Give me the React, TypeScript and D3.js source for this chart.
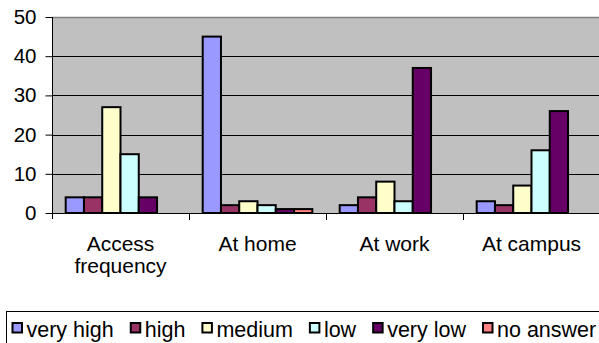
import React, { useEffect, useRef } from "react";
import * as d3 from "d3";

// Survey answers per access context
const categories: string[][] = [["Access", "frequency"], ["At home"], ["At work"], ["At campus"]];
const seriesNames = ["very high", "high", "medium", "low", "very low", "no answer"];
const seriesColors = ["#9999FF", "#993366", "#FFFFCC", "#CCFFFF", "#660066", "#FF8080"];
const veryHigh = [4, 45, 2, 3];
const high = [4, 2, 4, 2];
const medium = [27, 3, 8, 7];
const low = [15, 2, 3, 16];
const veryLow = [4, 1, 37, 26];
const noAnswer = [0, 1, 0, 0];
const yTicks = [0, 10, 20, 30, 40, 50];

const seriesValues = [veryHigh, high, medium, low, veryLow, noAnswer];

const W = 599;
const H = 343;
const FONT = "'Liberation Sans', Arial, sans-serif";

export default function App() {
  const ref = useRef<SVGSVGElement | null>(null);

  useEffect(() => {
    const svg = d3.select(ref.current);
    svg.selectAll("*").remove();

    const plot = { left: 52, right: 600, top: 17, bottom: 213 };
    const catKeys = categories.map((c) => c.join(" "));

    const x0 = d3.scaleBand<string>().domain(catKeys).range([plot.left, plot.right]).padding(0);
    const x1 = d3
      .scaleBand<string>()
      .domain(seriesNames)
      .range([0, x0.bandwidth()])
      .paddingInner(0)
      .paddingOuter(0.75);
    const y = d3.scaleLinear().domain([0, 50]).range([plot.bottom, plot.top]);

    // plot area
    svg
      .append("rect")
      .attr("x", plot.left)
      .attr("y", plot.top)
      .attr("width", plot.right - plot.left)
      .attr("height", plot.bottom - plot.top)
      .attr("fill", "#C0C0C0");

    // gridlines
    svg
      .append("g")
      .selectAll("line")
      .data(yTicks.filter((t) => t > 0 && t < 50))
      .join("line")
      .attr("x1", plot.left)
      .attr("x2", plot.right)
      .attr("y1", (d) => Math.round(y(d)) + 0.5)
      .attr("y2", (d) => Math.round(y(d)) + 0.5)
      .attr("stroke", "#000")
      .attr("stroke-width", 1);

    // top border of plot
    svg
      .append("line")
      .attr("x1", plot.left)
      .attr("x2", plot.right)
      .attr("y1", plot.top + 0.5)
      .attr("y2", plot.top + 0.5)
      .attr("stroke", "#808080")
      .attr("stroke-width", 1.5);

    // bars
    const groups = svg
      .append("g")
      .selectAll("g")
      .data(catKeys)
      .join("g")
      .attr("transform", (d) => `translate(${x0(d)},0)`);

    groups
      .selectAll("rect")
      .data((_, ci) => seriesNames.map((s, si) => ({ s, si, v: seriesValues[si][ci] })))
      .join("rect")
      .filter((d) => d.v > 0)
      .attr("x", (d) => x1(d.s)!)
      .attr("y", (d) => y(d.v))
      .attr("width", x1.bandwidth())
      .attr("height", (d) => y(0) - y(d.v))
      .attr("fill", (d) => seriesColors[d.si])
      .attr("stroke", "#000")
      .attr("stroke-width", 2);

    // y axis
    const yAxis = d3
      .axisLeft(y)
      .tickValues(yTicks)
      .tickSize(7)
      .tickPadding(9)
      .tickFormat((d) => String(d));
    const yg = svg.append("g").attr("transform", `translate(${plot.left + 0.5},0)`).call(yAxis);
    yg.select(".domain").attr("stroke", "#000").attr("d", `M0,${plot.top}V${plot.bottom + 6}`);
    yg.selectAll(".tick line").attr("stroke", "#000");
    yg.selectAll(".tick text")
      .attr("fill", "#000")
      .style("font-family", FONT)
      .style("font-size", "20.5px");

    // x axis line and category boundary ticks
    svg
      .append("line")
      .attr("x1", plot.left)
      .attr("x2", plot.right)
      .attr("y1", plot.bottom + 0.5)
      .attr("y2", plot.bottom + 0.5)
      .attr("stroke", "#000");
    svg
      .append("g")
      .selectAll("line")
      .data(catKeys.slice(1))
      .join("line")
      .attr("x1", (d) => Math.round(x0(d)!) + 0.5)
      .attr("x2", (d) => Math.round(x0(d)!) + 0.5)
      .attr("y1", plot.bottom)
      .attr("y2", plot.bottom + 7)
      .attr("stroke", "#000");

    // category labels
    const labels = svg
      .append("g")
      .selectAll("text")
      .data(categories)
      .join("text")
      .attr("x", (_, i) => x0(catKeys[i])! + x0.bandwidth() / 2)
      .attr("y", 251)
      .attr("text-anchor", "middle")
      .attr("fill", "#000")
      .style("font-family", FONT)
      .style("font-size", "21px");
    labels
      .selectAll("tspan")
      .data((d) => d)
      .join("tspan")
      .attr("x", function () {
        return (this.parentNode as SVGTextElement).getAttribute("x");
      })
      .attr("dy", (_, i) => (i === 0 ? 0 : 21.5))
      .text((d) => d);

    // legend
    const legendBox = { x: 6, y: 311 };
    svg
      .append("rect")
      .attr("x", legendBox.x + 0.5)
      .attr("y", legendBox.y + 0.5)
      .attr("width", 620)
      .attr("height", 60)
      .attr("fill", "#fff")
      .attr("stroke", "#000")
      .attr("stroke-width", 1);

    const lg = svg.append("g");
    let cx = 12.5;
    seriesNames.forEach((name, i) => {
      lg.append("rect")
        .attr("x", cx)
        .attr("y", 323)
        .attr("width", 9.5)
        .attr("height", 9.5)
        .attr("fill", seriesColors[i])
        .attr("stroke", "#000")
        .attr("stroke-width", 2);
      const t = lg
        .append("text")
        .attr("x", cx + 14)
        .attr("y", 336.5)
        .attr("fill", "#000")
        .style("font-family", FONT)
        .style("font-size", "21.5px")
        .text(name);
      const w = (t.node() as SVGTextElement).getComputedTextLength();
      cx += 14 + w + 17;
    });
  }, []);

  return (
    <svg
      ref={ref}
      width={W}
      height={H}
      style={{ position: "absolute", left: 0, top: 0, background: "#fff" }}
    />
  );
}
